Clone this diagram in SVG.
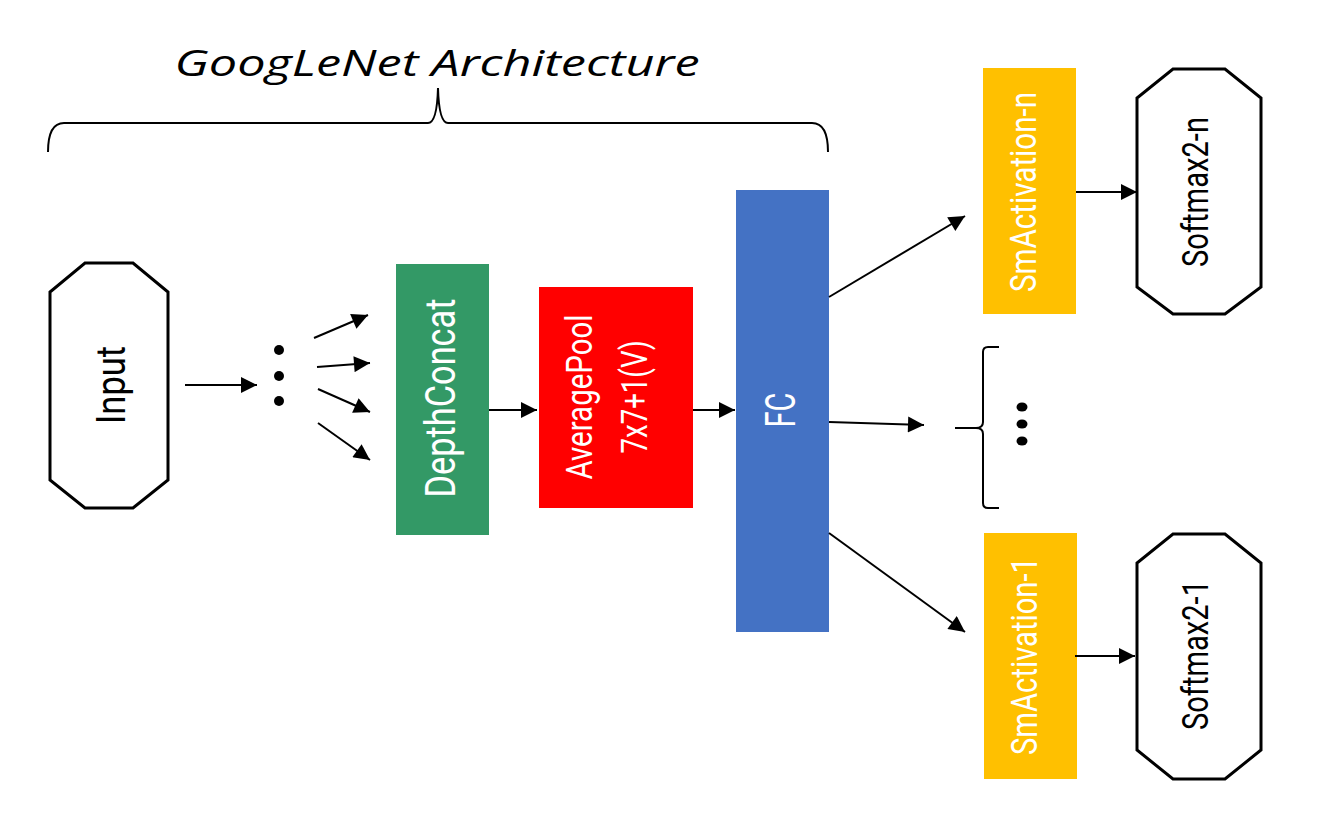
<svg xmlns="http://www.w3.org/2000/svg" width="1323" height="827" viewBox="0 0 1323 827">
<style>
.lbl{font-family:Roboto,"Open Sans","Liberation Sans",sans-serif;font-weight:400;text-anchor:middle}
.w{fill:#ffffff}
.b{fill:#000000}
.oct{fill:#ffffff;stroke:#000000;stroke-width:3;stroke-linejoin:miter}
.con{stroke:#000000;stroke-width:2;fill:none}
.brace{stroke:#000000;stroke-width:2;fill:none}
</style>
<defs>
<marker id="ah" viewBox="0 0 10 10" refX="10" refY="5" markerWidth="21" markerHeight="16" markerUnits="userSpaceOnUse" orient="auto">
<path d="M0,0 L10,5 L0,10 z" fill="#000000"/>
</marker>
</defs>
<rect width="1323" height="827" fill="#ffffff"/>

<g id="title">
<text x="437" y="76" font-family="'Open Sans','Liberation Sans',sans-serif" font-style="italic" font-size="36" text-anchor="middle" textLength="525" lengthAdjust="spacingAndGlyphs" fill="#000000">GoogLeNet Architecture</text>
<path class="brace" d="M48,152 Q48,123 64,123 L428,123 Q437,123 438,88 Q439,123 448,123 L812,123 Q828,123 828,152"/>
</g>

<g id="input">
<polygon class="oct" points="85,263 133,263 168,292 168,480 133,508 85,508 50,480 50,292"/>
<text class="lbl b" font-size="41" transform="translate(125,385) rotate(-90)" textLength="78" lengthAdjust="spacingAndGlyphs">Input</text>
</g>

<g id="dots-left">
<circle cx="279" cy="350" r="5" fill="#000000"/>
<circle cx="279" cy="376" r="5" fill="#000000"/>
<circle cx="279" cy="401" r="5" fill="#000000"/>
</g>

<g id="depthconcat">
<rect x="396" y="264" width="93" height="271" fill="#339966"/>
<text class="lbl w" font-size="43" transform="translate(455,398) rotate(-90)" textLength="199" lengthAdjust="spacingAndGlyphs">DepthConcat</text>
</g>

<g id="averagepool">
<rect x="539" y="287" width="154" height="221" fill="#ff0000"/>
<text class="lbl w" font-size="37" transform="translate(592,397) rotate(-90)" textLength="165" lengthAdjust="spacingAndGlyphs">AveragePool</text>
<text class="lbl w" font-size="37" transform="translate(647,397) rotate(-90)" textLength="113" lengthAdjust="spacingAndGlyphs">7x7+1(V)</text>
</g>

<g id="fc">
<rect x="736" y="190" width="93" height="442" fill="#4472c4"/>
<text class="lbl w" font-size="43" transform="translate(795,410) rotate(-90)" textLength="35" lengthAdjust="spacingAndGlyphs">FC</text>
</g>

<g id="smactivation-n">
<rect x="983" y="68" width="93" height="246" fill="#ffc000"/>
<text class="lbl w" font-size="37" transform="translate(1036,192) rotate(-90)" textLength="200" lengthAdjust="spacingAndGlyphs">SmActivation-n</text>
</g>

<g id="softmax2-n">
<polygon class="oct" points="1173,69 1225,69 1261,98 1261,287 1225,314 1173,314 1137,287 1137,98"/>
<text class="lbl b" font-size="37" transform="translate(1208,192) rotate(-90)" textLength="150" lengthAdjust="spacingAndGlyphs">Softmax2-n</text>
</g>

<g id="ellipsis-group">
<path class="brace" d="M999,347 L988,347 Q983,347 983,352 L983,422 Q983,428 976,428 L955,428 M976,428 Q983,428 983,434 L983,503 Q983,508 988,508 L999,508"/>
<ellipse cx="1022" cy="407" rx="5.5" ry="4.5" fill="#000000"/>
<ellipse cx="1022" cy="424" rx="5.5" ry="4.5" fill="#000000"/>
<ellipse cx="1022" cy="441" rx="5.5" ry="4.5" fill="#000000"/>
</g>

<g id="smactivation-1">
<rect x="984" y="533" width="93" height="246" fill="#ffc000"/>
<text class="lbl w" font-size="37" transform="translate(1037,656) rotate(-90)" textLength="198" lengthAdjust="spacingAndGlyphs">SmActivation-1</text>
</g>

<g id="softmax2-1">
<polygon class="oct" points="1173,534 1225,534 1261,563 1261,750 1225,779 1173,779 1137,750 1137,563"/>
<text class="lbl b" font-size="37" transform="translate(1208,655) rotate(-90)" textLength="150" lengthAdjust="spacingAndGlyphs">Softmax2-1</text>
</g>

<g id="connectors">
<line class="con" x1="185" y1="385" x2="257" y2="385" marker-end="url(#ah)"/>
<line class="con" x1="314" y1="338" x2="368" y2="315" marker-end="url(#ah)"/>
<line class="con" x1="317" y1="367" x2="370" y2="363" marker-end="url(#ah)"/>
<line class="con" x1="318" y1="389" x2="370" y2="412" marker-end="url(#ah)"/>
<line class="con" x1="318" y1="423" x2="370" y2="460" marker-end="url(#ah)"/>
<line class="con" x1="489" y1="410" x2="537" y2="410" marker-end="url(#ah)"/>
<line class="con" x1="693" y1="410" x2="735" y2="410" marker-end="url(#ah)"/>
<line class="con" x1="829" y1="297" x2="965" y2="216" marker-end="url(#ah)"/>
<line class="con" x1="829" y1="422" x2="924" y2="425" marker-end="url(#ah)"/>
<line class="con" x1="829" y1="533" x2="965" y2="632" marker-end="url(#ah)"/>
<line class="con" x1="1076" y1="192" x2="1137" y2="192" marker-end="url(#ah)"/>
<line class="con" x1="1075" y1="656" x2="1135" y2="656" marker-end="url(#ah)"/>
</g>
</svg>
